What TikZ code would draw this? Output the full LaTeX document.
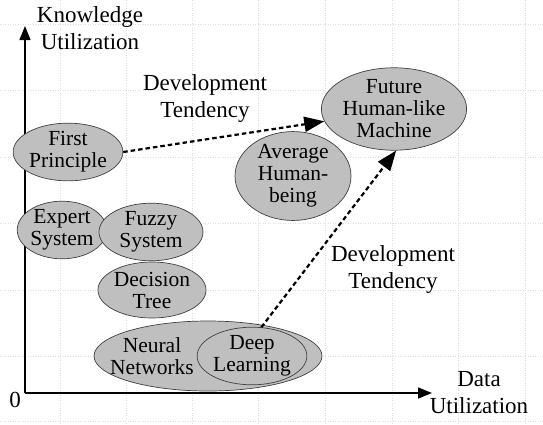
\documentclass[tikz,border=0pt]{standalone}
\usepackage{fontspec}
\setmainfont{Liberation Serif}
\usetikzlibrary{arrows.meta,shapes.geometric}
\tikzset{
  blob/.style={ellipse, draw=black!75, line width=0.7pt, fill=black!25, inner sep=0pt,
    align=center, font=\fontsize{21.5}{22}\selectfont},
  lbl/.style={align=center, font=\fontsize{23}{27}\selectfont, inner sep=0pt},
  axis/.style={line width=1.3pt, -{Triangle[length=14pt,width=11pt]}},
  trend/.style={line width=2.2pt, dash pattern=on 4.5pt off 3pt, -{Triangle[length=20pt,width=15pt]}},
  gridl/.style={black!13, line width=0.5pt, dotted}
}
\begin{document}
\begin{tikzpicture}[x=1pt,y=-1pt]
\useasboundingbox (0,0) rectangle (543,424);
\fill[white] (0,0) rectangle (543,424);
% faint grid
\foreach \gx in {60,126,192,258,325,392,458,525} \draw[gridl] (\gx,0) -- (\gx,424);
\foreach \gy in {24,90,157,223,290,356,421} \draw[gridl] (0,\gy) -- (543,\gy);
% axes
\coordinate (O) at (25,393);
\coordinate (ytip) at (25,26);
\coordinate (xtip) at (432,393);
\draw[axis] (O) -- (ytip);
\draw[axis] (O) -- (xtip);
\node[lbl] (zero) at (15,400) {0};
\node[lbl] (ky) at (90,28) {Knowledge\\Utilization};
\node[lbl] (dx) at (479,393) {Data\\Utilization};
% ellipses
\node[blob, minimum width=100pt, minimum height=56pt] (FP) at (68,152) {First\\Principle};
\node[blob, minimum width=116pt, minimum height=78pt] (FM) at (394,109) {Future\\Human-like\\Machine};
\node[blob, minimum width=116pt, minimum height=88pt] (AH) at (293,176) {Average\\Human-\\being};
\node[blob, minimum width=82pt, minimum height=52pt] (ES) at (62,230) {Expert\\System};
\node[blob, minimum width=104pt, minimum height=52pt] (FS) at (151,232) {Fuzzy\\System};
\node[blob, minimum width=100pt, minimum height=56pt] (DT) at (152,290) {Decision\\Tree};
\node[blob, minimum width=228pt, minimum height=70pt] (NN) at (208,356) {};
\node[font=\fontsize{21.5}{22}\selectfont, align=center, inner sep=0pt] (NNt) at (152,356) {Neural\\Networks};
\node[blob, minimum width=106pt, minimum height=56pt] (DL) at (252,356) {Deep\\Learning};
% trends
\draw[trend] (FP.east) -- (FM.190);
\draw[trend] (DL.72) -- (FM.273);
\node[lbl] (t1) at (205,98) {Development\\Tendency};
\node[lbl] (t2) at (393,269) {Development\\Tendency};
\end{tikzpicture}
\end{document}
